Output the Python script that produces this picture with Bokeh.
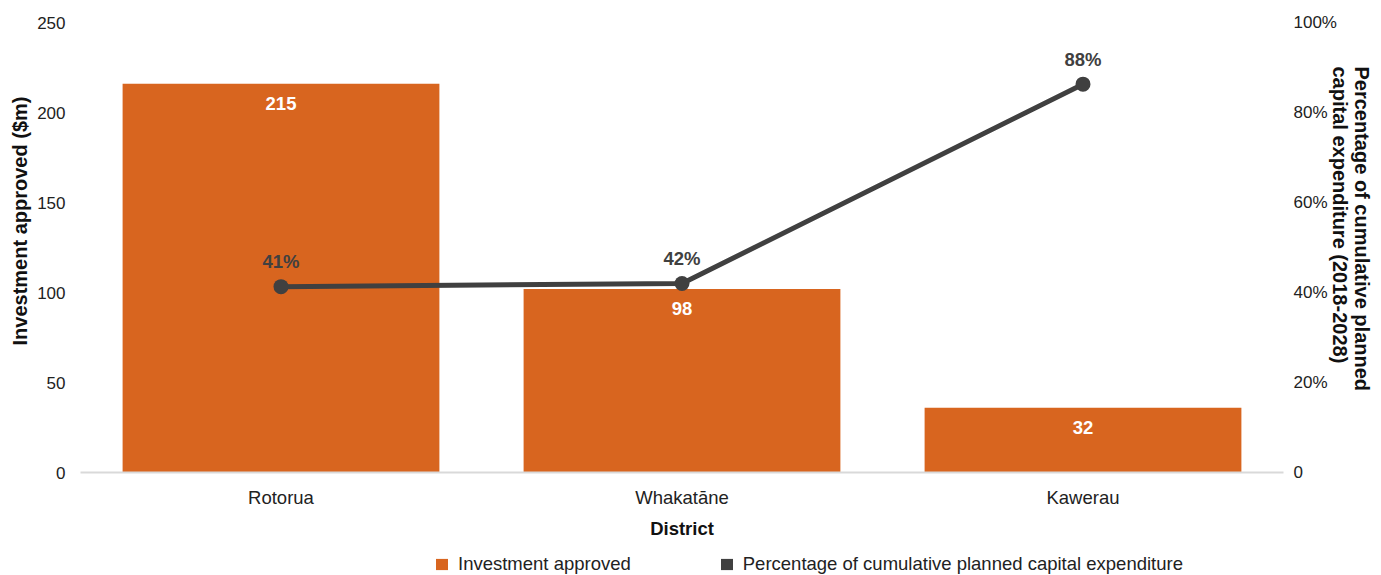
from bokeh.plotting import figure
from bokeh.layouts import column
from bokeh.models import (FactorRange, Range1d, LinearAxis, FixedTicker, Legend,
                          LegendItem, ColumnDataSource, Title)
from bokeh.core.properties import value
from bokeh.embed import file_html
from bokeh.resources import INLINE

# ---- data ----
districts = ["Rotorua", "Whakatāne", "Kawerau"]
investment = [216, 102, 36]            # bar heights as drawn ($m)
investment_labels = ["215", "98", "32"]
pct = [41.3, 42.0, 86.3]               # line values as drawn (%)
pct_labels = ["41%", "42%", "88%"]
left_ticks = [0, 50, 100, 150, 200, 250]
right_ticks = [0, 20, 40, 60, 80, 100]
right_tick_labels = ["0", "20%", "40%", "60%", "80%", "100%"]
legend_labels = ["Investment approved",
                 "Percentage of cumulative planned capital expenditure"]
left_title = "Investment approved ($m)"
right_title = "Percentage of cumulative planned\ncapital expenditure (2018-2028)"

ORANGE = "#D8651F"
DARK = "#404040"
FONT = "Liberation Sans"

src_bar = ColumnDataSource(dict(x=districts, top=investment, lab=investment_labels))
src_line = ColumnDataSource(dict(x=districts, y=pct, lab=pct_labels))

p = figure(width=1381, height=548, output_backend="svg", toolbar_location=None,
           x_range=FactorRange(*districts, range_padding=0),
           y_range=Range1d(0, 250),
           min_border_left=80, min_border_right=98, min_border_top=22,
           min_border_bottom=76, outline_line_color=None)
p.extra_y_ranges = {"pct": Range1d(0, 100)}

p.xgrid.grid_line_color = None
p.ygrid.grid_line_color = None

p.vbar(x="x", top="top", width=0.79, source=src_bar,
       fill_color=ORANGE, line_color=None)
p.line(x="x", y="y", source=src_line, line_color=DARK, line_width=5,
       y_range_name="pct")
p.scatter(x="x", y="y", source=src_line, size=15, fill_color=DARK,
          line_color=None, y_range_name="pct")

p.text(x="x", y="top", text="lab", source=src_bar, y_offset=20,
       text_align="center", text_baseline="middle", text_color="white",
       text_font=value(FONT), text_font_size="18.5px", text_font_style="bold")
p.text(x="x", y="y", text="lab", source=src_line, y_offset=-25,
       text_align="center", text_baseline="middle", text_color=DARK,
       text_font=value(FONT), text_font_size="18.5px", text_font_style="bold",
       y_range_name="pct")

# left axis
ax = p.yaxis[0]
ax.ticker = FixedTicker(ticks=left_ticks)
ax.axis_line_color = None
ax.major_tick_line_color = None
ax.minor_tick_line_color = None
ax.major_label_text_font = FONT
ax.major_label_text_font_size = "17px"
ax.major_label_text_color = "#222222"
ax.major_label_standoff = 9

p.add_layout(Title(text=left_title, align="left", offset=127, standoff=8,
                   text_font=FONT, text_font_size="20px", text_font_style="bold",
                   text_color="#111111"), "left")

# right axis
rax = LinearAxis(y_range_name="pct", ticker=FixedTicker(ticks=right_ticks),
                 major_label_overrides={t: l for t, l in zip(right_ticks, right_tick_labels)})
rax.axis_line_color = None
rax.major_tick_line_color = None
rax.minor_tick_line_color = None
rax.major_label_text_font = FONT
rax.major_label_text_font_size = "17px"
rax.major_label_text_color = "#222222"
rax.major_label_standoff = 4
p.add_layout(rax, "right")

p.add_layout(Title(text=right_title, align="left", offset=44, standoff=-21,
                   text_font=FONT, text_font_size="20px", text_font_style="bold",
                   text_color="#111111"), "right")

# bottom axis
xa = p.xaxis[0]
xa.axis_line_color = "#d9d9d9"
xa.axis_line_width = 2
xa.major_tick_line_color = None
xa.minor_tick_line_color = None
xa.major_label_text_font = FONT
xa.major_label_text_font_size = "18.5px"
xa.major_label_text_color = "#222222"
xa.major_label_standoff = 8
xa.axis_label = "District"
xa.axis_label_text_font = FONT
xa.axis_label_text_font_size = "18.5px"
xa.axis_label_text_font_style = "bold"
xa.axis_label_text_color = "#111111"
xa.axis_label_standoff = 7

# legend strip below the chart
lg = figure(width=1381, height=27, output_backend="svg", toolbar_location=None,
            x_axis_type=None, y_axis_type=None, min_border=0,
            outline_line_color=None, x_range=Range1d(0, 1), y_range=Range1d(0, 1))
lg.xgrid.grid_line_color = None
lg.ygrid.grid_line_color = None
r1 = lg.vbar(x=[0.5], top=[0], width=0.001, fill_color=ORANGE, line_color=None)
r2 = lg.vbar(x=[0.5], top=[0], width=0.001, fill_color=DARK, line_color=None)
legend = Legend(items=[LegendItem(label=legend_labels[0], renderers=[r1]),
                       LegendItem(label=legend_labels[1], renderers=[r2])],
                orientation="horizontal", location=(354, 0),
                glyph_width=15, glyph_height=14, label_standoff=9, spacing=88,
                label_text_font=FONT, label_text_font_size="18.5px",
                label_text_color="#222222", border_line_color=None,
                background_fill_alpha=0, padding=0, margin=0, label_height=14)
lg.add_layout(legend, "center")

layout = column(p, lg, spacing=0)
open("out.html", "w").write(file_html(layout, INLINE))
